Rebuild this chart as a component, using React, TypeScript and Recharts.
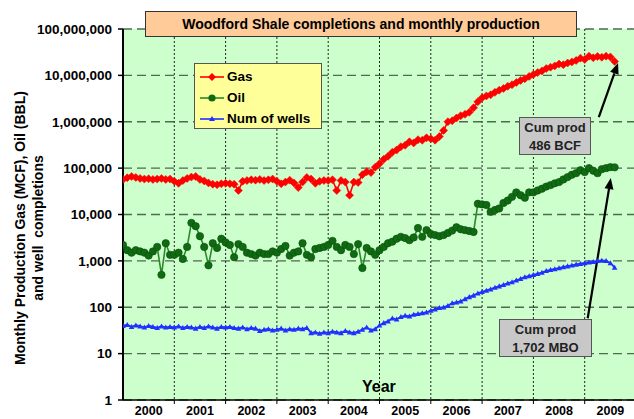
import React from 'react';
import { ComposedChart, Line, XAxis, YAxis, CartesianGrid, ReferenceLine } from 'recharts';

// monthly values, Jan 2000 .. Aug 2009
const gasValues = [
  57000, 62000, 66000, 63000, 60000, 58000, 59000, 57000, 58000, 60000, 57000, 58000,
  52000, 47000, 54000, 60000, 64000, 66000, 57000, 53000, 48000, 45000, 44000, 46000,
  47000, 46000, 45000, 33000, 52000, 54000, 56000, 55000, 57000, 54000, 56000, 58000,
  52000, 46000, 50000, 55000, 48000, 38000, 50000, 63000, 58000, 47000, 52000, 54000,
  54000, 56000, 33000, 54000, 50000, 26000, 50000, 49000, 72000, 84000, 80000, 105000,
  125000, 155000, 180000, 220000, 245000, 290000, 310000, 370000, 350000, 410000, 400000, 450000,
  430000, 400000, 480000, 650000, 1000000, 1050000, 1200000, 1350000, 1450000, 1600000, 2000000, 2700000,
  3300000, 3600000, 3800000, 4300000, 4800000, 5200000, 5800000, 6300000, 7000000, 7800000, 8500000, 9500000,
  10500000, 11500000, 12500000, 14000000, 15000000, 16000000, 17500000, 17000000, 18500000, 19500000, 21000000, 23500000,
  22000000, 26000000, 24000000, 25500000, 24500000, 26000000, 25000000, 20000000,
];

const oilValues = [
  2200, 1700, 1500, 1700, 1600, 1500, 1300, 1600, 2000, 500, 2400, 1350,
  1350, 1500, 1100, 2000, 6600, 5600, 3400, 2000, 800, 2400, 1900, 3000,
  2500, 2200, 1200, 2300, 2000, 1500, 1400, 1300, 1500, 1400, 1400, 1600,
  1500, 1800, 2100, 1300, 1500, 1600, 2400, 1350, 1200, 1800, 1900, 2000,
  2200, 2700, 2000, 1700, 2200, 2000, 1400, 2300, 700, 1900, 1600, 1350,
  1700, 2000, 2400, 2600, 3000, 3300, 3100, 2800, 3200, 5100, 3300, 4600,
  3800, 3600, 3400, 3600, 4000, 4500, 5300, 4800, 4600, 4400, 4200, 17000,
  16500, 16000, 11400, 12500, 13500, 17700, 20000, 24000, 30000, 26000, 23000, 30000,
  30000, 33000, 36000, 40000, 43000, 47000, 50000, 57000, 64000, 72000, 78000, 90000,
  82000, 100000, 88000, 78000, 95000, 100000, 105000, 104000,
];

const wellValues = [
  40, 42, 38, 41, 39, 37, 40, 38, 36, 39, 37, 38,
  37, 39, 36, 38, 37, 35, 38, 36, 39, 37, 35, 38,
  37, 38, 36, 35, 37, 34, 36, 35, 31, 33, 34, 32,
  33, 35, 32, 34, 33, 35, 34, 36, 28, 29, 27, 29,
  28, 30, 29, 28, 31, 29, 28, 30, 33, 37, 32, 34,
  41, 46, 50, 58, 55, 62, 66, 64, 70, 72, 75, 78,
  85, 90, 97, 100, 108, 123, 128, 135, 150, 167, 180, 200,
  215, 230, 245, 265, 285, 305, 330, 350, 380, 410, 450, 470,
  500, 530, 560, 610, 640, 670, 700, 740, 770, 800, 840, 870,
  900, 930, 960, 1000, 1020, 1000, 900, 720,
];

const yearLabels = ['2000', '2001', '2002', '2003', '2004', '2005', '2006', '2007', '2008', '2009'];
const yearTicks = yearLabels.map((_, i) => (i + 1) * 12);
const yTicks = [1, 10, 100, 1000, 10000, 100000, 1000000, 10000000, 100000000];

const data = gasValues.map((gas, i) => ({
  month: i,
  gas,
  oil: oilValues[i],
  wells: wellValues[i],
}));

const FONT = '"Liberation Sans", Arial, sans-serif';
const GAS = '#ff0000';
const OIL = '#0f6a12';
const OIL_LINE = '#2a8a2a';
const WELLS = '#2030ff';

// arrows for the two callouts (month, value)
const gasArrow = [{ x: 111.3, y: 1260000 }, { x: 115.8, y: 18500000 }];
const oilArrow = [{ x: 108.7, y: 58 }, { x: 114.1, y: 61000 }];

function Diamond(props: any) {
  const { cx, cy, index } = props;
  if (cx == null || cy == null) return <g key={index} />;
  const s = 4;
  return (
    <polygon key={index} points={`${cx},${cy - s} ${cx + s},${cy} ${cx},${cy + s} ${cx - s},${cy}`} fill={GAS} stroke={GAS} strokeWidth={0.5} />
  );
}

function Dot(props: any) {
  const { cx, cy, index } = props;
  if (cx == null || cy == null) return <g key={index} />;
  return <circle key={index} cx={cx} cy={cy} r={3.7} fill={OIL} stroke="#0a4f0c" strokeWidth={0.6} />;
}

function Tri(props: any) {
  const { cx, cy, index } = props;
  if (cx == null || cy == null) return <g key={index} />;
  const s = 2.8;
  return <polygon key={index} points={`${cx},${cy - s} ${cx + s},${cy + s * 0.8} ${cx - s},${cy + s * 0.8}`} fill={WELLS} />;
}

function Arrow(props: any) {
  const { x1, y1, x2, y2 } = props;
  if ([x1, y1, x2, y2].some((v) => v == null || isNaN(v))) return <g />;
  const a = Math.atan2(y2 - y1, x2 - x1);
  const len = 11;
  const half = 4.5;
  const bx = x2 - len * Math.cos(a);
  const by = y2 - len * Math.sin(a);
  const pts = `${x2},${y2} ${bx + half * Math.sin(a)},${by - half * Math.cos(a)} ${bx - half * Math.sin(a)},${by + half * Math.cos(a)}`;
  return (
    <g>
      <line x1={x1} y1={y1} x2={bx} y2={by} stroke="#000" strokeWidth={2.2} />
      <polygon points={pts} fill="#000" />
    </g>
  );
}

function YearTick(props: any) {
  const { x, index } = props;
  return (
    <text x={x - 25.6} y={415} textAnchor="middle" fontFamily={FONT} fontWeight="bold" fontSize={12.5} fill="#000">
      {yearLabels[index]}
    </text>
  );
}

const calloutBox: React.CSSProperties = {
  position: 'absolute',
  background: '#c8c8c8',
  border: '1px solid #555',
  fontWeight: 'bold',
  fontSize: 13,
  lineHeight: '18px',
  textAlign: 'center',
  color: '#222',
  boxSizing: 'border-box',
  paddingTop: 1,
};

function LegendRow({ label, color, lineColor, marker }: any) {
  return (
    <div style={{ display: 'flex', alignItems: 'center', height: 21 }}>
      <svg width={26} height={12} style={{ marginRight: 2 }}>
        <line x1={1} y1={6} x2={25} y2={6} stroke={lineColor} strokeWidth={1.6} />
        {marker === 'diamond' && <polygon points="13,2 17,6 13,10 9,6" fill={color} />}
        {marker === 'circle' && <circle cx={13} cy={6} r={3.6} fill={color} />}
        {marker === 'tri' && <polygon points="13,3 16,8 10,8" fill={color} />}
      </svg>
      <span>{label}</span>
    </div>
  );
}

export default function App() {
  return (
    <div style={{ position: 'fixed', left: 0, top: 0, width: 634, height: 419, overflow: 'hidden', background: '#fff', fontFamily: FONT }}>
      <div style={{ position: 'absolute', left: 0, top: 0 }}>
        <ComposedChart width={640} height={419} data={data} margin={{ top: 29, right: 4, bottom: 0, left: 0 }}>
          <CartesianGrid fill="#ccffcc" vertical={false} stroke="#4d6b4d" strokeDasharray="9 5" strokeWidth={1.4} />
          <CartesianGrid horizontal={false} stroke="#222" strokeDasharray="2 2" strokeWidth={1} />
          <XAxis
            dataKey="month"
            type="number"
            domain={[0, 120]}
            ticks={yearTicks}
            interval={0}
            height={19}
            tick={<YearTick />}
            tickSize={4}
            axisLine={{ stroke: '#000', strokeWidth: 1.5 }}
            tickLine={{ stroke: '#000' }}
            allowDataOverflow
          />
          <YAxis
            scale="log"
            domain={[1, 100000000]}
            ticks={yTicks}
            interval={0}
            allowDataOverflow
            width={123}
            tickSize={5}
            tickMargin={6}
            tickFormatter={(v: number) => v.toLocaleString('en-US')}
            tick={{ fill: '#000', fontSize: 13.5, fontWeight: 'bold', fontFamily: FONT }}
            axisLine={{ stroke: '#000', strokeWidth: 2 }}
            tickLine={{ stroke: '#000', strokeWidth: 1.5 }}
          />
          <Line dataKey="wells" stroke={WELLS} strokeWidth={1.8} dot={<Tri />} isAnimationActive={false} />
          <Line dataKey="oil" stroke={OIL_LINE} strokeWidth={1.6} dot={<Dot />} isAnimationActive={false} />
          <Line dataKey="gas" stroke={GAS} strokeWidth={1.6} dot={<Diamond />} isAnimationActive={false} />
          <ReferenceLine segment={gasArrow} shape={<Arrow />} ifOverflow="visible" />
          <ReferenceLine segment={oilArrow} shape={<Arrow />} ifOverflow="visible" />
        </ComposedChart>
      </div>

      {/* title */}
      <div
        style={{
          position: 'absolute', left: 145, top: 11, width: 432, height: 26, boxSizing: 'border-box',
          background: '#ffcc99', border: '1px solid #333', fontWeight: 'bold', fontSize: 14,
          display: 'flex', alignItems: 'center', justifyContent: 'center', color: '#000',
        }}
      >
        Woodford Shale completions and monthly production
      </div>

      {/* legend */}
      <div
        style={{
          position: 'absolute', left: 194, top: 63, width: 128, height: 66, boxSizing: 'border-box',
          background: '#ffff99', border: '1px solid #555', padding: '2px 0 0 4px',
          fontSize: 13.5, fontWeight: 'bold', color: '#000',
        }}
      >
        <LegendRow label="Gas" color={GAS} lineColor={GAS} marker="diamond" />
        <LegendRow label="Oil" color={OIL} lineColor={OIL_LINE} marker="circle" />
        <LegendRow label="Num of wells" color={WELLS} lineColor={WELLS} marker="tri" />
      </div>

      {/* callouts */}
      <div style={{ ...calloutBox, left: 519, top: 117, width: 72, height: 38 }}>
        Cum prod<br />486 BCF
      </div>
      <div style={{ ...calloutBox, left: 499, top: 319, width: 93, height: 38 }}>
        Cum prod<br />1,702 MBO
      </div>

      {/* axis titles */}
      <div style={{ position: 'absolute', left: 362, top: 378, fontWeight: 'bold', fontSize: 16, color: '#000' }}>Year</div>
      <div
        style={{
          position: 'absolute', left: 29 - 190, top: 228 - 18, width: 380, height: 36,
          transform: 'rotate(-90deg)', transformOrigin: '50% 50%', textAlign: 'center',
          fontWeight: 'bold', fontSize: 14, lineHeight: '18px', color: '#000',
        }}
      >
        Monthly Production Gas (MCF), Oil (BBL)
        <br />
        and well&nbsp; completions
      </div>
    </div>
  );
}
